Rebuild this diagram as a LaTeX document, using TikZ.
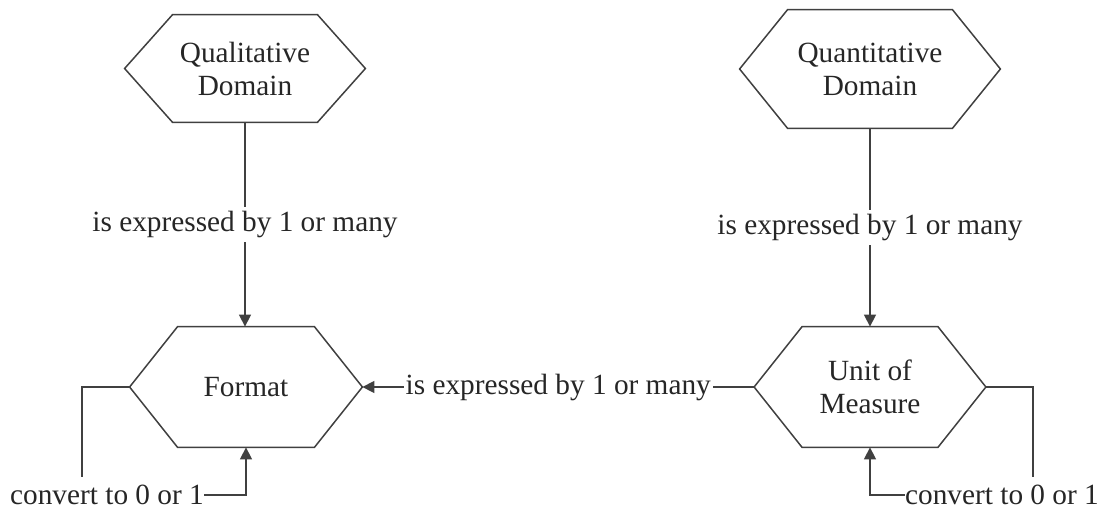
\documentclass[tikz,border=0pt]{standalone}
\usepackage{fontspec}
\setmainfont{Liberation Serif}
\usetikzlibrary{calc,arrows.meta}
\newcommand{\hexframe}[1]{\draw[hexline] (#1.west) -- ($(#1.north west)+(48,0)$) -- ($(#1.north east)+(-48,0)$) -- (#1.east) -- ($(#1.south east)+(-48,0)$) -- ($(#1.south west)+(48,0)$) -- cycle;}
\begin{document}
\begin{tikzpicture}[x=0.5pt,y=-0.5pt,
  hexbox/.style={draw=none, inner sep=0pt, align=center, text=black!85, font=\fontsize{14.65}{16.5}\selectfont},
  hexline/.style={draw=black!75, line width=0.75pt, line join=miter},
  conn/.style={draw=black!75, line width=0.75pt},
  arr/.style={conn, -{Triangle[length=6pt,width=6pt]}},
  lbl/.style={fill=white, inner xsep=1pt, inner ysep=2pt, text=black!85, font=\fontsize{14.65}{16.5}\selectfont},
]
\useasboundingbox (0,0) rectangle (1104,508);
\node[hexbox, minimum width=120pt, minimum height=53.5pt] (qual) at (245,68.5) {Qualitative\\Domain};
\node[hexbox, minimum width=130pt, minimum height=59pt] (quant) at (870,69) {Quantitative\\Domain};
\node[hexbox, minimum width=116pt, minimum height=60pt] (format) at (246,387) {Format};
\node[hexbox, minimum width=115.5pt, minimum height=60pt] (unit) at (870,387) {Unit of\\Measure};
\hexframe{qual}
\hexframe{quant}
\hexframe{format}
\hexframe{unit}
\draw[arr] (qual.south) -- (qual.south |- format.north) node[midway, lbl] {is expressed by 1 or many};
\draw[arr] (quant.south) -- (unit.north) node[midway, lbl] {is expressed by 1 or many};
\draw[arr] (unit.west) -- (format.east) node[midway, lbl] {is expressed by 1 or many};
\coordinate (fl) at (82,477);
\coordinate (ur) at (1033,477);
\draw[conn] (format.west) -| (fl);
\draw[conn] (unit.east) -| (ur);
\node[lbl, inner xsep=0pt] (convL) at (107,495) {convert to 0 or 1};
\node[lbl, inner xsep=0pt] (convR) at (1002,495) {convert to 0 or 1};
\draw[arr] (convL.east) -| (format.south);
\draw[arr] (convR.west) -| (unit.south);
\end{tikzpicture}
\end{document}
